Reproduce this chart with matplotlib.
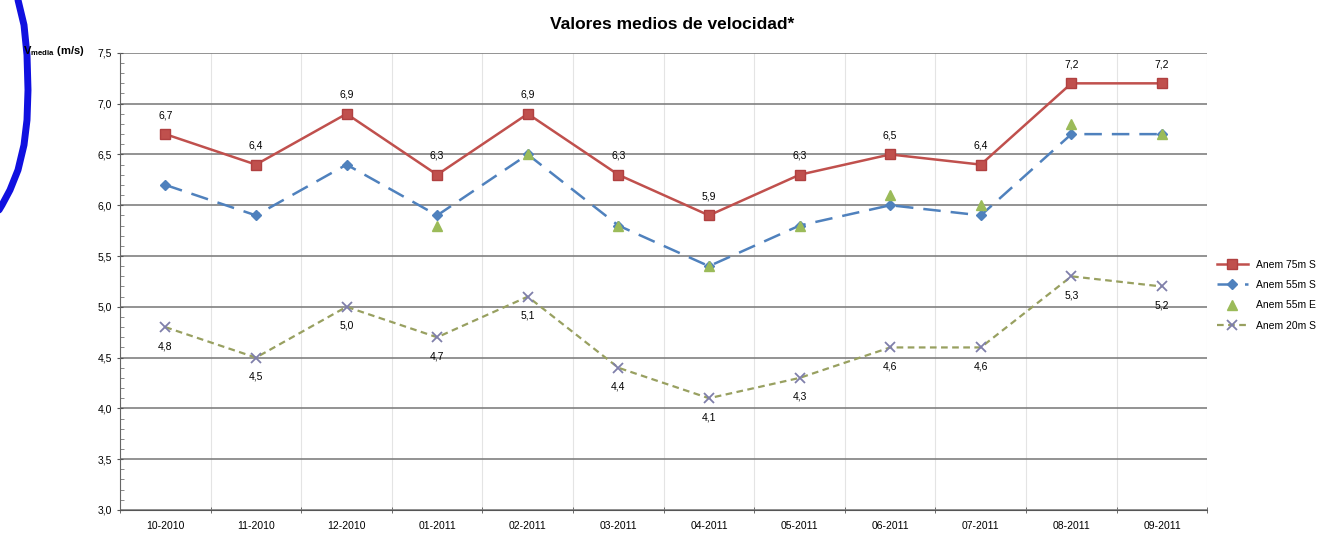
import matplotlib
matplotlib.use('Agg')
import numpy as np
import matplotlib.pyplot as plt
from matplotlib.ticker import MultipleLocator

months = ["10-2010", "11-2010", "12-2010", "01-2011", "02-2011", "03-2011",
          "04-2011", "05-2011", "06-2011", "07-2011", "08-2011", "09-2011"]
anem_75s = [6.7, 6.4, 6.9, 6.3, 6.9, 6.3, 5.9, 6.3, 6.5, 6.4, 7.2, 7.2]
anem_55s = [6.2, 5.9, 6.4, 5.9, 6.5, 5.8, 5.4, 5.8, 6.0, 5.9, 6.7, 6.7]
anem_55e = [np.nan, np.nan, np.nan, 5.8, 6.5, 5.8, 5.4, 5.8, 6.1, 6.0, 6.8, 6.7]
anem_20s = [4.8, 4.5, 5.0, 4.7, 5.1, 4.4, 4.1, 4.3, 4.6, 4.6, 5.3, 5.2]

plt.rcParams['font.family'] = ['Liberation Sans', 'DejaVu Sans']

fig = plt.figure(figsize=(13.44, 5.34), dpi=100)
ax = fig.add_axes([0.0893, 0.045, 0.809, 0.856])

x = np.arange(len(months))
ax.plot(x, anem_75s, color='#C0504D', lw=1.8, marker='s', ms=7,
        mec='#B04040', mfc='#C0504D', label='Anem 75m S', zorder=4)
ax.plot(x, anem_55s, color='#4F81BD', lw=1.8, dashes=(7, 4), marker='D', ms=5,
        mfc='#4F81BD', mec='#4F81BD', label='Anem 55m S', zorder=3)
ax.plot(x, anem_55e, ls='none', marker='^', ms=7, color='#9BBB59',
        label='Anem 55m E', zorder=5)
ax.plot(x, anem_20s, color='#98A060', lw=1.6, dashes=(3, 2), marker='x', ms=7,
        mec='#7F7FAA', mew=1.3, label='Anem 20m S', zorder=3)

fmt = lambda v: ('%.1f' % v).replace('.', ',')
for xi, v in zip(x, anem_75s):
    ax.annotate(fmt(v), (xi, v), xytext=(0, 10), textcoords='offset points',
                ha='center', va='bottom', fontsize=7.5)
for xi, v in zip(x, anem_20s):
    ax.annotate(fmt(v), (xi, v), xytext=(0, -10), textcoords='offset points',
                ha='center', va='top', fontsize=7.5)

ax.set_xlim(-0.5, len(months) - 0.5)
ax.set_ylim(3.0, 7.5)
ax.yaxis.set_minor_locator(MultipleLocator(0.1))
ax.set_yticks(np.arange(3.0, 7.51, 0.5))
ax.set_yticklabels([fmt(v) for v in np.arange(3.0, 7.51, 0.5)], fontsize=7.5)
ax.set_xticks(x)
ax.set_xticklabels(months, fontsize=7.5)
ax.set_xticks(np.arange(-0.5, len(months), 1.0), minor=True)
ax.tick_params(axis='x', which='major', length=0, pad=8)
ax.tick_params(axis='x', which='minor', length=5, direction='inout', color='#555555')
ax.tick_params(axis='y', which='major', length=5, direction='inout', color='#555555')
ax.tick_params(axis='y', which='minor', length=3, direction='in', color='#777777')

ax.grid(axis='y', which='major', color='#808080', lw=1.2)
ax.grid(axis='x', which='minor', color='#E4E4E4', lw=0.8)
ax.set_axisbelow(True)
for s in ['top', 'right']:
    ax.spines[s].set_visible(False)
ax.spines['left'].set_color('#666666')
ax.spines['bottom'].set_color('#555555')

ax.legend(loc='center left', bbox_to_anchor=(1.0, 0.47), frameon=False,
          fontsize=7.5, handlelength=3, labelspacing=1.0)

fig.text(0.5, 0.955, 'Valores medios de velocidad*', ha='center', va='center',
         fontsize=12.5, fontweight='bold')
fig.text(0.0625, 0.905, r'V$_{\mathregular{media}}$ (m/s)', ha='right', va='center',
         fontsize=8, fontweight='bold')

# hand-drawn blue arc at the left edge (pixel path, top-left origin)
px = np.array([18, 24, 27, 28, 27, 24, 18, 10, 2, -4])
py = np.array([0, 25, 55, 90, 120, 145, 170, 190, 205, 215])
fig.add_artist(plt.Line2D(px / 1344, 1 - py / 534, color='#1010E0', lw=5,
                          solid_capstyle='round', transform=fig.transFigure))

fig.savefig('out.png', dpi=100)
